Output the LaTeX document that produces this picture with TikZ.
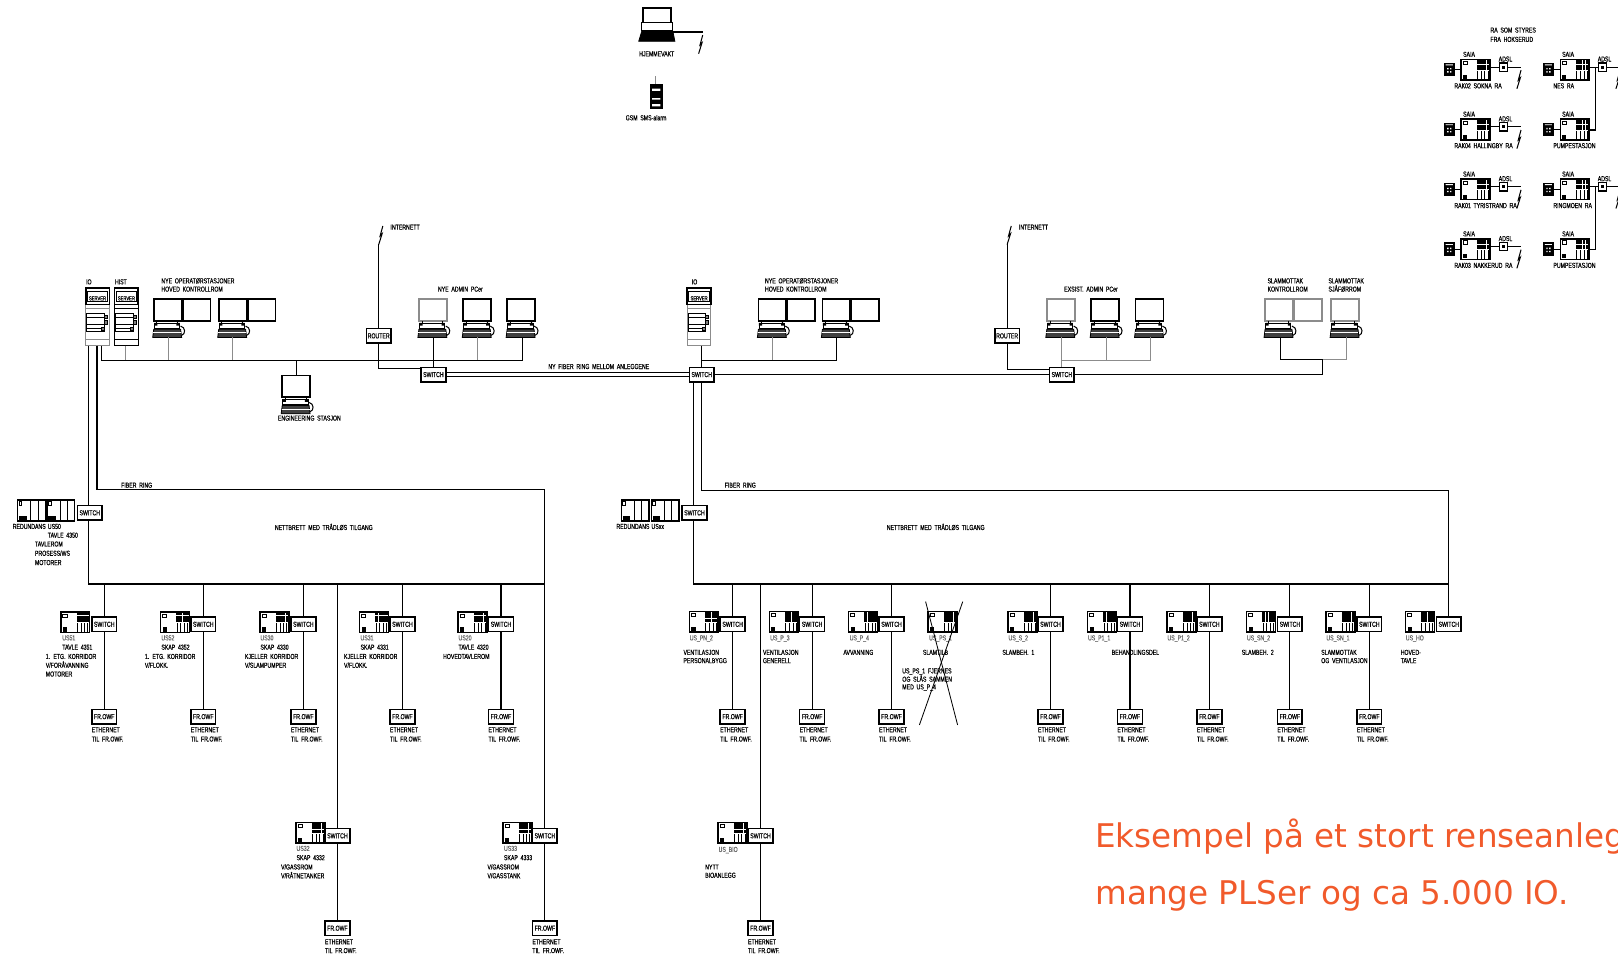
\documentclass[tikz,border=0pt]{standalone}
\usepackage{fontspec}
\newfontfamily\cad[FakeStretch=0.72,FakeBold=0.4,WordSpace=1.9]{Liberation Sans}
\newfontfamily\notefont{DejaVu Sans}
\definecolor{noteorange}{HTML}{F15A2B}
\definecolor{softgrey}{HTML}{8C8C8C}
\newcounter{lblc}
\tikzset{
  cadtxt/.style={anchor=west,inner sep=0pt,text height=2.6pt,text depth=0pt,font=\cad\fontsize{3.5}{4}\selectfont},
  netbox/.style={draw,line width=.75pt,fill=white,minimum width=12pt,minimum height=7pt,inner sep=0pt,font=\cad\fontsize{3.5}{4}\selectfont},
  adslbox/.style={draw,line width=.6pt,fill=white,minimum width=4pt,minimum height=4pt,inner sep=0pt},
  phonebox/.style={fill=black,minimum width=5.5pt,minimum height=6.5pt,inner sep=0pt},
  wire/.style={line width=.55pt,line join=miter},
  greywire/.style={line width=.55pt,draw=softgrey},
  pics/bolt/.style={code={
    \draw[line width=.5pt] (0,0) -- (-2.6,9.5) -- (-.7,7.5) -- (-4,18);}},
  pics/moni/.style={code={
    \draw[draw=#1,line width=.85pt,fill=white] (0,0) rectangle (27,21);}},
  pics/moni/.default=black,
  pics/pcicon/.style={code={
    \draw[draw=#1,line width=.85pt,fill=white] (0,0) rectangle (27,21);
    \draw[line width=.4pt] (3,21)--(3,23) (23,21)--(23,23);
    \draw[line width=.4pt,fill=white] (.5,23) rectangle (25,28);
    \fill (.5,23) rectangle (3.5,25.5) (22,23) rectangle (25,25.5);
    \draw[fill=black!75,line width=.4pt] (-1,37) -- (0,29) -- (26,29) -- (27,37) -- cycle;
    \draw[white,line width=.3pt] (-.5,32.5) -- (26.5,32.5);
    \draw[line width=.5pt] (26,26) .. controls (31,27) and (31,34) .. (27,35);}},
  pics/pcicon/.default=black,
  pics/plcicon/.style={code={
    \draw[line width=.7pt,fill=white] (0,0) rectangle (28,20);
    \draw[line width=.45pt] (2,2) rectangle (6,5);
    \fill (2,15) rectangle (6,19);
    \pgfmathsetmacro\rowh{10/#1}
    \foreach \r in {1,...,#1}{\foreach \c in {0,1,2,3}{
      \fill (15.2+\c*3.2,.6+\r*\rowh-\rowh) rectangle +(2.85,\rowh-.6);}}
    \draw[line width=.45pt] (16,11) -- (16,20) (19.5,11) -- (19.5,20) (23,11) -- (23,20) (26,11) -- (26,20);}},
  pics/plcplain/.style={code={
    \draw[line width=.6pt,fill=white] (0,0) rectangle (27,20.5);
    \draw[line width=.5pt] (13,0) -- (13,20.5) (20,0) -- (20,20.5);
    \draw[line width=.4pt] (1.5,1.5) rectangle (4,5);
    \fill (1.5,16) rectangle (9,19.5);}},
  pics/serverbody/.style={code={
    \draw[draw=#1,line width=.5pt,fill=white] (0,16) rectangle (23,56);
    \draw[draw=#1,line width=.5pt] (0,50) -- (23,50) (0,20) -- (23,20);
    \draw[line width=.85pt,fill=white] (0,0) rectangle (23,16);
    \draw[line width=.5pt] (1.5,3.5) rectangle (21.5,13);
    \draw[line width=.5pt,fill=white] (1,25) rectangle (18,42);
    \draw[line width=.5pt] (1,29) -- (18,29) (1,35) -- (18,35) (1,39) -- (18,39);
    \draw[line width=.5pt,fill=black!50] (18,27) rectangle (21,30) (18,32) rectangle (21,35) (15,38) rectangle (18,41);}},
  pics/serverbody/.default=black,
}
\newcommand{\lbl}[3]{\stepcounter{lblc}\node[cadtxt] (t\arabic{lblc}) at (#1,#2) {#3};}
\newcommand{\lblg}[3]{\stepcounter{lblc}\node[cadtxt,text=black!60] (t\arabic{lblc}) at (#1,#2) {#3};}
% branch with switch and FR.OWF box, upper row
\newcommand{\lanup}[3]{%
  \coordinate (bus#1) at (#2,566);
  \node[netbox] (sw#1) at (#2,605) {SWITCH};
  \node[netbox] (fr#1) at (#2,694.5) {FR.OWF};
  \draw[wire] (#3) -- (sw#1);
  \draw[wire] (sw#1) -- (fr#1);
  \lbl{#2-12.5}{707}{ETHERNET}
  \lbl{#2-12.5}{716}{TIL FR.OWF.}}
% branch lower row
\newcommand{\lanlow}[3]{%
  \coordinate (bus#1) at (#2,566);
  \node[netbox] (sw#1) at (#2,810) {SWITCH};
  \node[netbox] (fr#1) at (#2,899.5) {FR.OWF};
  \draw[wire] (#3) -- (sw#1);
  \draw[wire] (sw#1) -- (fr#1);
  \lbl{#2-12.5}{912.5}{ETHERNET}
  \lbl{#2-12.5}{921}{TIL FR.OWF.}}
% remote station of the upper right block
\newcommand{\racell}[4]{%
  \pic at (#2,#3) {plcicon=2};
  \node[phonebox] (ph#1) at (#2-11.5,#3+10) {};
  \fill[white] (#2-13.5,#3+8.5) rectangle +(1.3,1.3) (#2-10.7,#3+8.5) rectangle +(1.3,1.3)
               (#2-13.5,#3+11.5) rectangle +(1.3,1.3) (#2-10.7,#3+11.5) rectangle +(1.3,1.3)
               (#2-15,#3+5) rectangle +(7,.8);
  \coordinate (pl#1) at (#2,#3+10);
  \draw[wire] (ph#1) -- (pl#1);
  \lbl{#2+1.5}{#3-5}{SAIA}
  \lbl{#2-7}{#3+25.5}{#4}}
\newcommand{\raadsl}[3]{%
  \node[adslbox] (ad#1) at (#2+41,#3+7.5) {};
  \fill (#2+39.5,#3+6) rectangle +(3,3);
  \coordinate (pr#1) at (#2+28,#3+7.5);
  \coordinate (bt#1) at (#2+58,#3+7.5);
  \draw[wire] (pr#1) -- (ad#1);
  \draw[wire] (ad#1) -- (bt#1);
  \pic at (#2+58,#3+10.5) {bolt};
  \lbl{#2+36}{#3-.5}{ADSL}}
\begin{document}
\begin{tikzpicture}[x=.5pt,y=-.5pt]
\path[use as bounding box,clip] (0,0) rectangle (1568,926.4);

%==== nodes of the backbone
\node[netbox] (swA) at (420,363) {SWITCH};
\node[netbox] (swB) at (680,363) {SWITCH};
\node[netbox] (swC) at (1029,363) {SWITCH};
\node[netbox] (rtA) at (367,325.5) {ROUTER};
\node[netbox] (rtB) at (976,325.5) {ROUTER};
\node[netbox] (swL) at (87,497) {SWITCH};
\node[netbox] (swR) at (673,497) {SWITCH};

%==== top centre
\pic at (623,8) {moni};
\draw[line width=.5pt,fill=white] (622,22) rectangle (652,30);
\draw[fill=black,line width=.4pt] (619,40) -- (622,30) -- (652,30) -- (654,40) -- cycle;
\coordinate (hjA) at (651,31);
\coordinate (hjB) at (681,31);
\draw[wire] (hjA) -- (hjB);
\pic at (681,34) {bolt};
\lbl{619}{52}{HJEMMEVAKT}
\draw[softgrey,line width=.6pt] (635,74) -- (635,82);
\draw[fill=black,line width=.3pt] (630,82) rectangle (642,105);
\fill[white] (632,86) rectangle +(8,2) (632,95) rectangle +(8,1.5) (632,101) rectangle +(8,2);
\lbl{606}{114}{GSM SMS-alarm}

%==== left servers and PCs
\pic at (83,279) {serverbody=softgrey};
\pic at (111,279) {serverbody};
\node[cadtxt,anchor=center,font=\cad\fontsize{2.8}{3}\selectfont] (srvTa) at (94.5,288.5) {SERVER};
\node[cadtxt,anchor=center,font=\cad\fontsize{2.8}{3}\selectfont] (srvTb) at (122.5,288.5) {SERVER};
\lbl{83}{273}{IO}
\lbl{111}{273}{HIST}
\pic at (149,290) {pcicon};
\pic at (177,290) {moni};
\pic at (212,290) {pcicon};
\pic at (240,290) {moni};
\lbl{156}{272}{NYE OPERATØRSTASJONER}
\lbl{156}{280}{HOVED KONTROLLROM}
\pic at (406,290) {pcicon=softgrey};
\pic at (449,290) {pcicon};
\pic at (491.5,290) {pcicon};
\lbl{424}{280}{NYE ADMIN PCer}
\pic at (273.5,364) {pcicon};
\lbl{269}{405}{ENGINEERING STASJON}
\lbl{378}{220}{INTERNETT}
\pic at (371,219) {bolt};

\coordinate (srvAa) at (86,335);
\coordinate (srvAb) at (94,335);
\coordinate (srvAc) at (98,335);
\coordinate (srvAd) at (122,335);
\coordinate (lanAw) at (98,349);
\coordinate (lanAe) at (506,349);
\coordinate (stA1) at (163,327);
\coordinate (stA2) at (225,327);
\coordinate (stA3) at (420,327);
\coordinate (stA4) at (463,327);
\coordinate (stA5) at (506,327);
\coordinate (engT) at (287,349);
\coordinate (engB) at (287,364);
\coordinate (inetA) at (367,236);
\coordinate (rtAc) at (367,357.5);
\draw[wire] (srvAc) -- (lanAw) -- (lanAe) -- (stA5);
\draw[greywire] (srvAd) -- (srvAd |- lanAw);
\draw[greywire] (stA1) -- (stA1 |- lanAw);
\draw[greywire] (stA2) -- (stA2 |- lanAw);
\draw[greywire] (stA4) -- (stA4 |- lanAw);
\draw[wire] (stA3) -- (swA);
\draw[wire] (engT) -- (engB);
\draw[wire] (inetA) -- (rtA);
\draw[wire] (rtA) -- (rtAc) -- (swA.west |- rtAc);

%==== fibre ring between the plants
\coordinate (ringU) at (550,361);
\coordinate (ringD) at (550,365);
\draw[wire] (swA.east |- ringU) -- (swB.west |- ringU);
\draw[wire] (swA.east |- ringD) -- (swB.west |- ringD);
\draw[wire] (swB) -- (swC);
\lbl{531}{355}{NY FIBER RING MELLOM ANLEGGENE}

%==== centre server, PCs
\pic at (666,279) {serverbody=softgrey};
\node[cadtxt,anchor=center,font=\cad\fontsize{2.8}{3}\selectfont] (srvTc) at (677.5,288.5) {SERVER};
\lbl{670}{273}{IO}
\pic at (735,290) {pcicon};
\pic at (763,290) {moni};
\pic at (797,290) {pcicon};
\pic at (825,290) {moni};
\lbl{741}{272}{NYE OPERATØRSTASJONER}
\lbl{741}{280}{HOVED KONTROLLROM}
\coordinate (srvB) at (680,335);
\coordinate (lanBw) at (680,349);
\coordinate (lanBe) at (811,349);
\coordinate (stB1) at (749,327);
\coordinate (stB2) at (811,327);
\draw[wire] (srvB) -- (swB);
\draw[wire] (lanBw) -- (lanBe) -- (stB2);
\draw[greywire] (stB1) -- (stB1 |- lanBw);

%==== existing admin and sludge PCs
\pic at (1014.5,290) {pcicon=softgrey};
\pic at (1057.5,290) {pcicon};
\pic at (1100.5,290) {pcicon};
\lbl{1031}{280}{EXSIST. ADMIN PCer}
\pic at (1226,290) {pcicon=softgrey};
\pic at (1254,290) {moni=softgrey};
\pic at (1290,290) {pcicon=softgrey};
\lbl{1228}{272}{SLAMMOTTAK}
\lbl{1228}{280}{KONTROLLROM}
\lbl{1287}{272}{SLAMMOTTAK}
\lbl{1287}{280}{SJÅFØRROM}
\lbl{987}{220}{INTERNETT}
\pic at (980,219) {bolt};
\coordinate (inetB) at (976,236);
\coordinate (rtBc) at (976,358);
\draw[wire] (inetB) -- (rtB);
\draw[wire] (rtB) -- (rtBc) -- (swC.west |- rtBc);
\coordinate (stC1) at (1029,327);
\coordinate (stC2) at (1072,327);
\coordinate (stC3) at (1115,327);
\coordinate (lanCw) at (1029,349.5);
\draw[greywire] (stC1) -- (swC);
\draw[greywire] (lanCw) -- (lanCw -| stC3) -- (stC3);
\draw[greywire] (stC2) -- (stC2 |- lanCw);
\coordinate (stD1) at (1241,327);
\coordinate (stD2) at (1305,327);
\coordinate (lanDw) at (1241,348);
\coordinate (lanDm) at (1282,348);
\draw[wire] (stD1) -- (lanDw) -- (lanDm);
\draw[greywire] (lanDm) -- (lanDm -| stD2) -- (stD2);
\draw[wire] (swC) -- (swC -| lanDm) -- (lanDm);

%==== left fibre ring
\coordinate (ringLa) at (94,474.5);
\coordinate (ringLb) at (528,474.5);
\coordinate (busLw) at (86,566);
\coordinate (busLe) at (528,566);
\draw[wire] (srvAa) -- (swL.north -| srvAa);
\draw[wire] (swL.south -| srvAa) -- (busLw) -- (busLe);
\draw[wire] (srvAb) -- (ringLa) -- (ringLb) -- (busLe);
\lbl{117}{470}{FIBER RING}
\lbl{266}{511}{NETTBRETT MED TRÅDLØS TILGANG}
\pic at (17,484.5) {plcplain};
\pic at (45.5,484.5) {plcplain};
\lbl{12}{510}{REDUNDANS}
\lbl{46}{510}{US50}
\lbl{46}{518.5}{TAVLE 4350}
\lbl{33.5}{527}{TAVLEROM}
\lbl{33.5}{536}{PROSESS/WS}
\lbl{33.5}{545}{MOTORER}

%==== left branches
\lanup{a}{101}{101,566}
\lanup{b}{197}{197,566}
\lanup{c}{294}{294,566}
\lanup{d}{390}{390,566}
\lanup{e}{485.5}{485.5,566}
\lanlow{f}{327}{327,566}
\lanlow{g}{528}{busLe}
\pic at (59,593) {plcicon=3};
\pic at (155.5,593) {plcicon=3};
\pic at (252,593) {plcicon=3};
\pic at (348.5,593) {plcicon=3};
\pic at (444,593) {plcicon=3};
\pic at (287,797) {plcicon=3};
\pic at (487.5,797) {plcicon=3};
\lblg{60}{618}{US51}
\lbl{60}{627}{TAVLE 4351}
\lbl{44}{636}{1. ETG. KORRIDOR}
\lbl{44}{644.5}{V/FORÅVANNING}
\lbl{44}{653}{MOTORER}
\lblg{156}{618}{US52}
\lbl{156}{627}{SKAP 4352}
\lbl{140}{636}{1. ETG. KORRIDOR}
\lbl{140}{644.5}{V/FLOKK.}
\lblg{252}{618}{US30}
\lbl{252}{627}{SKAP 4330}
\lbl{237}{636}{KJELLER KORRIDOR}
\lbl{237}{644.5}{V/SLAMPUMPER}
\lblg{349}{618}{US31}
\lbl{349}{627}{SKAP 4331}
\lbl{333}{636}{KJELLER KORRIDOR}
\lbl{333}{644.5}{V/FLOKK.}
\lblg{444}{618}{US20}
\lbl{444}{627}{TAVLE 4320}
\lbl{429}{636}{HOVEDTAVLEROM}
\lblg{287}{822}{US32}
\lbl{287}{831}{SKAP 4332}
\lbl{272}{840}{V/GASSROM}
\lbl{272}{848.5}{V/RÅTNETANKER}
\lblg{488}{822}{US33}
\lbl{488}{831}{SKAP 4333}
\lbl{472}{840}{V/GASSROM}
\lbl{472}{848.5}{V/GASSTANK}

%==== right fibre ring
\coordinate (ringRa) at (680,475);
\coordinate (ringRb) at (1404,475);
\coordinate (busRw) at (672,566);
\coordinate (busRe) at (1404,566);
\draw[wire] (swB.south -| busRw) -- (swR.north -| busRw);
\draw[wire] (swR.south -| busRw) -- (busRw) -- (busRe);
\draw[wire] (swB) -- (ringRa) -- (ringRb) -- (busRe);
\lbl{702}{470}{FIBER RING}
\lbl{859}{511}{NETTBRETT MED TRÅDLØS TILGANG}
\pic at (602,484.5) {plcplain};
\pic at (631,484.5) {plcplain};
\lbl{597}{510}{REDUNDANS}
\lbl{631}{510}{USxx}

%==== right branches
\lanup{h}{710}{710,566}
\lanup{i}{787}{787,566}
\lanup{j}{864}{864,566}
\lanup{k}{1018}{1018,566}
\lanup{l}{1095}{1095,566}
\lanup{m}{1172}{1172,566}
\lanup{n}{1250}{1250,566}
\lanup{o}{1327}{1327,566}
\lanlow{p}{737}{737,566}
\node[netbox] (swq) at (1404,605) {SWITCH};
\draw[wire] (busRe) -- (swq);
\pic at (668,592.5) {plcicon=3};
\pic at (745.5,592.5) {plcicon=2};
\pic at (822.5,592.5) {plcicon=2};
\pic at (899.5,592.5) {plcicon=2};
\pic at (977,592.5) {plcicon=2};
\pic at (1054,592.5) {plcicon=2};
\pic at (1131,592.5) {plcicon=2};
\pic at (1208,592.5) {plcicon=2};
\pic at (1285,592.5) {plcicon=2};
\pic at (1362,592.5) {plcicon=2};
\pic at (696,797) {plcicon=3};
\lblg{668}{618}{US\_PN\_2}
\lbl{662}{632}{VENTILASJON}
\lbl{662}{640}{PERSONALBYGG}
\lblg{746}{618}{US\_P\_3}
\lbl{739}{632}{VENTILASJON}
\lbl{739}{640}{GENERELL}
\lblg{823}{618}{US\_P\_4}
\lbl{817}{632}{AVVANNING}
\lblg{900}{618}{US\_PS\_1}
\lbl{894}{632}{SLAMTILB}
\lbl{874}{650}{US\_PS\_1 FJERNES}
\lbl{874}{658}{OG SLÅS SAMMEN}
\lbl{874}{665.5}{MED US\_P\_4}
\coordinate (crossA) at (897,583);
\coordinate (crossB) at (928,702.5);
\coordinate (crossC) at (933,583);
\coordinate (crossD) at (891,702.5);
\draw[line width=.4pt] (crossA) -- (crossB);
\draw[line width=.4pt] (crossC) -- (crossD);
\lblg{977}{618}{US\_S\_2}
\lbl{971}{632}{SLAMBEH. 1}
\lblg{1054}{618}{US\_P1\_1}
\lbl{1077}{632}{BEHANDLINGSDEL}
\lblg{1131}{618}{US\_P1\_2}
\lblg{1208}{618}{US\_SN\_2}
\lbl{1203}{632}{SLAMBEH. 2}
\lblg{1285}{618}{US\_SN\_1}
\lbl{1280}{632}{SLAMMOTTAK}
\lbl{1280}{640}{OG VENTILASJON}
\lblg{1362}{618}{US\_HO}
\lbl{1357}{632}{HOVED-}
\lbl{1357}{640}{TAVLE}
\lblg{696}{823}{US\_BIO}
\lbl{683}{840}{NYTT}
\lbl{683}{848}{BIOANLEGG}

%==== remote stations
\lbl{1444}{29}{RA SOM STYRES}
\lbl{1444}{38}{FRA HOKSERUD}
\racell{ra}{1416}{57.5}{RAK02 SOKNA RA}
\racell{rb}{1416}{115.5}{RAK04 HALLINGBY RA}
\racell{rc}{1416}{173.5}{RAK01 TYRISTRAND RA}
\racell{rd}{1416}{231.5}{RAK03 NAKKERUD RA}
\racell{re}{1512}{57.5}{NES RA}
\racell{rf}{1512}{115.5}{PUMPESTASJON}
\racell{rg}{1512}{173.5}{RINGMOEN RA}
\racell{rh}{1512}{231.5}{PUMPESTASJON}
\raadsl{ra}{1416}{57.5}
\raadsl{rb}{1416}{115.5}
\raadsl{rc}{1416}{173.5}
\raadsl{rd}{1416}{231.5}
\raadsl{re}{1512}{57.5}
\raadsl{rg}{1512}{173.5}
\coordinate (upE) at (1546,65);
\coordinate (dnE) at (1546,126);
\coordinate (dnEp) at (1540,126);
\draw[wire] (upE) -- (dnE) -- (dnEp);
\coordinate (upG) at (1546,181);
\coordinate (dnG) at (1546,242);
\coordinate (dnGp) at (1540,242);
\draw[wire] (upG) -- (dnG) -- (dnGp);

%==== note
\node[anchor=base west,inner sep=0pt,text=noteorange,font=\notefont\fontsize{15.8}{18}\selectfont] (noteA) at (1061,821) {Eksempel på et stort renseanlegg};
\node[anchor=base west,inner sep=0pt,text=noteorange,font=\notefont\fontsize{15.8}{18}\selectfont] (noteB) at (1061,877) {mange PLSer og ca 5.000 IO.};
\end{tikzpicture}
\end{document}
